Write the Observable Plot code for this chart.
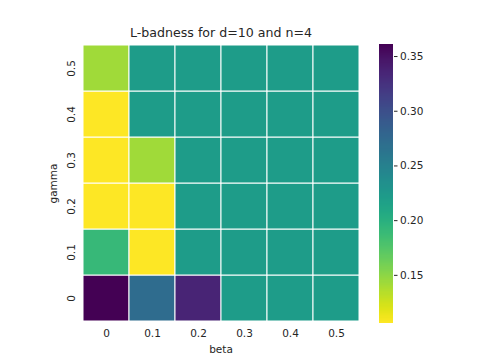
<!DOCTYPE html>
<html><head><meta charset="utf-8">
<script src="https://cdn.jsdelivr.net/npm/d3@7"></script>
<script src="https://cdn.jsdelivr.net/npm/@observablehq/plot@0.6"></script>
<style>
body{margin:0;background:#fff;}
#wrap{position:relative;width:484px;height:363px;}
#wrap svg{position:absolute;left:0;top:0;}
</style></head>
<body><div id="wrap"></div>
<script>
const title = "L-badness for d=10 and n=4";
const betas = [0, 0.1, 0.2, 0.3, 0.4, 0.5];
const gammas = [0, 0.1, 0.2, 0.3, 0.4, 0.5];
// rows by gamma (0 .. 0.5), columns by beta (0 .. 0.5)
const gamma0  = [0.361, 0.272, 0.336, 0.221, 0.221, 0.221];
const gamma01 = [0.190, 0.106, 0.221, 0.221, 0.221, 0.221];
const gamma02 = [0.106, 0.106, 0.221, 0.221, 0.221, 0.221];
const gamma03 = [0.106, 0.142, 0.221, 0.221, 0.221, 0.221];
const gamma04 = [0.106, 0.221, 0.221, 0.221, 0.221, 0.221];
const gamma05 = [0.142, 0.221, 0.221, 0.221, 0.221, 0.221];
const rows = [gamma0, gamma01, gamma02, gamma03, gamma04, gamma05];
const cbTicks = [0.15, 0.20, 0.25, 0.30, 0.35];

const data = [];
rows.forEach((r, gi) => r.forEach((v, bi) => data.push({beta: String(betas[bi]), gamma: String(gammas[gi]), value: v})));
const ext = d3.extent(data, d => d.value);
const colorOpts = {type: "linear", scheme: "viridis", reverse: true, domain: ext};
const font = "DejaVu Sans, sans-serif";
const W = 484, H = 363;

const main = Plot.plot({
  width: W, height: H,
  marginLeft: 81, marginRight: 124, marginTop: 43, marginBottom: 40,
  style: {fontFamily: font, fontSize: "10.5px", color: "#262626", background: "transparent"},
  x: {type: "band", domain: betas.map(String), padding: 0},
  y: {type: "band", domain: gammas.slice().reverse().map(String), padding: 0},
  color: colorOpts,
  marks: [
    Plot.cell(data, {x: "beta", y: "gamma", fill: "value", stroke: "white", strokeWidth: 1}),
    Plot.axisX({tickSize: 0, tickPadding: 6, label: "beta", labelAnchor: "center", labelArrow: "none", labelOffset: 29}),
    Plot.axisY({tickSize: 0, tickPadding: 7, tickRotate: -90, label: "gamma", labelAnchor: "center", labelArrow: "none", labelOffset: 32}),
    Plot.text([title], {frameAnchor: "top", dy: -7, lineAnchor: "bottom", fontSize: 12.6, fill: "#262626"})
  ]
});

const stops = d3.range(0, 256).map(i => {
  const a = ext[0] + (ext[1] - ext[0]) * i / 256;
  const b = ext[0] + (ext[1] - ext[0]) * (i + 1) / 256;
  return {y1: a, y2: b, v: (a + b) / 2};
});
const bar = Plot.plot({
  width: W, height: H,
  marginLeft: 379, marginRight: W - 393, marginTop: 44, marginBottom: H - 323,
  style: {fontFamily: font, fontSize: "10.5px", color: "#262626", background: "transparent"},
  x: {domain: [0, 1], axis: null},
  y: {domain: ext},
  color: colorOpts,
  marks: [
    Plot.rect(stops, {x1: 0, x2: 1, y1: "y1", y2: "y2", fill: "v", inset: 0, shapeRendering: "crispEdges"}),
    Plot.axisY({anchor: "right", ticks: cbTicks, tickFormat: d3.format(".2f"), tickSize: 3.5, tickPadding: 3, label: null})
  ]
});
document.getElementById("wrap").append(main, bar);
</script></body></html>
